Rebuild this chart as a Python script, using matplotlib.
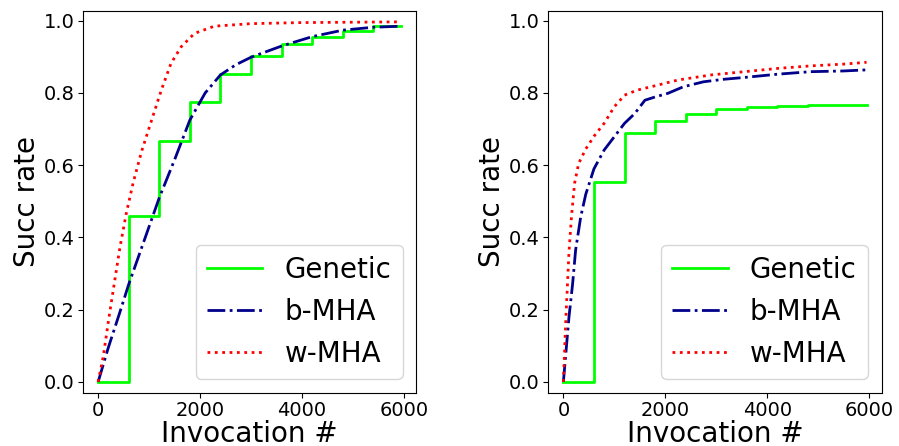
import matplotlib
matplotlib.use('Agg')
import matplotlib.pyplot as plt

# Genetic: step curves (evaluated every 600 invocations)
gen_x = [0, 600, 1200, 1800, 2400, 3000, 3600, 4200, 4800, 5400, 5950]
gen_left = [0, 0.46, 0.667, 0.775, 0.852, 0.902, 0.935, 0.956, 0.971, 0.985, 0.985]
gen_right = [0, 0.554, 0.688, 0.723, 0.743, 0.757, 0.762, 0.764, 0.766, 0.767, 0.768]

# b-MHA
bmha_left_x = [0, 200, 420, 600, 750, 950, 1200, 1500, 1800, 2100, 2400, 2700, 3000, 3600, 4200, 4800, 5400, 5950]
bmha_left_y = [0, 0.095, 0.19, 0.27, 0.33, 0.41, 0.51, 0.615, 0.725, 0.80, 0.85, 0.878, 0.899, 0.93, 0.956, 0.974, 0.982, 0.985]
bmha_right_x = [0, 110, 180, 240, 340, 440, 600, 800, 1000, 1200, 1400, 1600, 1800, 2050, 2350, 2750, 3150, 3550, 4200, 4850, 5500, 5950]
bmha_right_y = [0, 0.18, 0.27, 0.365, 0.457, 0.52, 0.59, 0.642, 0.679, 0.716, 0.743, 0.78, 0.789, 0.799, 0.817, 0.831, 0.838, 0.843, 0.852, 0.859, 0.861, 0.864]

# w-MHA
wmha_left_x = [0, 100, 225, 325, 425, 550, 685, 850, 1050, 1240, 1430, 1630, 1890, 2280, 3000, 4000, 5000, 5950]
wmha_left_y = [0, 0.07, 0.19, 0.28, 0.37, 0.465, 0.55, 0.637, 0.725, 0.808, 0.882, 0.928, 0.965, 0.985, 0.992, 0.995, 0.996, 0.997]
wmha_right_x = [0, 50, 80, 110, 160, 220, 300, 440, 600, 800, 1000, 1200, 1450, 1800, 2250, 2900, 3550, 4200, 4850, 5500, 5950]
wmha_right_y = [0, 0.18, 0.27, 0.36, 0.46, 0.55, 0.605, 0.645, 0.68, 0.716, 0.762, 0.794, 0.808, 0.82, 0.836, 0.85, 0.859, 0.868, 0.875, 0.880, 0.885]

panels = [
    (gen_left, bmha_left_x, bmha_left_y, wmha_left_x, wmha_left_y),
    (gen_right, bmha_right_x, bmha_right_y, wmha_right_x, wmha_right_y),
]

fig, axes = plt.subplots(1, 2, figsize=(8.99, 4.46), dpi=100)
fig.subplots_adjust(left=0.0923, right=0.9808, bottom=0.1195, top=0.9753, wspace=0.395)

for ax, (gy, bx, by, wx, wy) in zip(axes, panels):
    ax.plot(gen_x, gy, color='lime', lw=2, drawstyle='steps-post', label='Genetic')
    ax.plot(bx, by, color='darkblue', lw=2, linestyle='-.', label='b-MHA')
    ax.plot(wx, wy, color='red', lw=2, linestyle=':', label='w-MHA')
    ax.set_ylim(-0.03, 1.027)
    ax.set_xticks([0, 2000, 4000, 6000])
    ax.set_yticks([0.0, 0.2, 0.4, 0.6, 0.8, 1.0])
    ax.tick_params(labelsize=14, pad=2.5)
    ax.set_xlabel('Invocation #', fontsize=20, labelpad=0)
    ax.set_ylabel('Succ rate', fontsize=20, labelpad=2)
    ax.legend(loc='lower right', fontsize=20)

fig.savefig('out.png')
